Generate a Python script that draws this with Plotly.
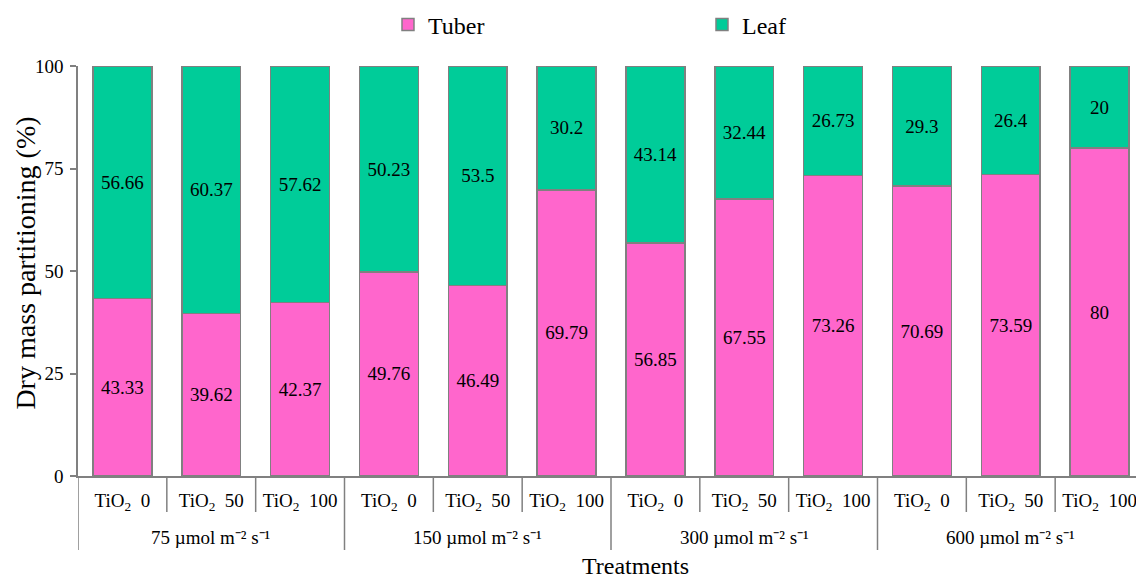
import plotly.graph_objects as go

groups = ["75 µmol m⁻² s⁻¹", "150 µmol m⁻² s⁻¹", "300 µmol m⁻² s⁻¹", "600 µmol m⁻² s⁻¹"]
doses = ["0", "50", "100"]
tuber = [43.33, 39.62, 42.37, 49.76, 46.49, 69.79, 56.85, 67.55, 73.26, 70.69, 73.59, 80]
leaf = [56.66, 60.37, 57.62, 50.23, 53.5, 30.2, 43.14, 32.44, 26.73, 29.3, 26.4, 20]

categories = [f"{g}|{d}" for g in groups for d in doses]
tick_labels = [f"TiO<sub>2</sub>\u00a0\u00a0{d}" for g in groups for d in doses]

font = "Liberation Serif, Times New Roman, serif"
GRAY = "#808080"
fig = go.Figure()
for name, vals, col in [("Tuber", tuber, "#FF66CC"), ("Leaf", leaf, "#00CC99")]:
    fig.add_trace(go.Bar(
        x=categories, y=vals, name=name,
        marker=dict(color=col, line=dict(color=GRAY, width=1.5)),
        text=[f"{v:g}" for v in vals], textposition="inside",
        insidetextanchor="middle", constraintext="none",
        textfont=dict(family=font, size=19, color="black"),
    ))

plot_h = 410.0
plot_w = 1066.0
n = len(categories)
for i in range(n + 1):
    is_group = i % len(doses) == 0
    depth = 74 if is_group else 36
    fig.add_shape(type="line", xref="x", yref="paper", x0=i - 0.5, x1=i - 0.5,
                  y0=0, y1=-depth / plot_h, line=dict(color=GRAY, width=1.5))
for gi, g in enumerate(groups):
    fig.add_annotation(x=gi * len(doses) + (len(doses) - 1) / 2, xref="x", yref="paper",
                       y=-61 / plot_h, yanchor="middle", text=g, showarrow=False,
                       font=dict(family=font, size=19, color="black"))

# axis titles
fig.add_annotation(x=-52 / plot_w, xref="paper", xanchor="center", y=0.518, yref="paper",
                   yanchor="middle", text="Dry mass partitioning (%)", textangle=-90,
                   showarrow=False, borderpad=0,
                   font=dict(family=font, size=28, color="black"))
fig.add_annotation(x=(635 - 78) / plot_w, xref="paper", xanchor="center", y=-90 / plot_h,
                   yref="paper", yanchor="middle", text="Treatments", showarrow=False,
                   font=dict(family=font, size=24, color="black"))

fig.update_layout(
    barmode="stack", bargap=0.336,
    width=1136, height=570,
    margin=dict(l=70, r=0, t=58, b=102, autoexpand=False),
    plot_bgcolor="white", paper_bgcolor="white",
    font=dict(family=font, size=19, color="black"),
    legend=dict(orientation="h", x=0.2908, xanchor="left", y=(476 - 25) / plot_h, yanchor="middle",
                entrywidth=269, font=dict(size=24), traceorder="normal"),
    xaxis=dict(type="category", showline=True, linecolor=GRAY, linewidth=1.5,
               tickvals=categories, ticktext=tick_labels, ticks="",
               ticklabelstandoff=6, tickfont=dict(size=19),
               range=[-0.5, n - 0.5]),
    yaxis=dict(range=[0, 100], tickvals=[0, 25, 50, 75, 100], showgrid=False,
               zeroline=False,
               showline=True, linecolor=GRAY, linewidth=1.5,
               ticks="outside", ticklen=6, tickcolor=GRAY, tickwidth=1.5,
               ticklabelstandoff=3, tickfont=dict(size=19)),
)
fig.write_html("out.html")
